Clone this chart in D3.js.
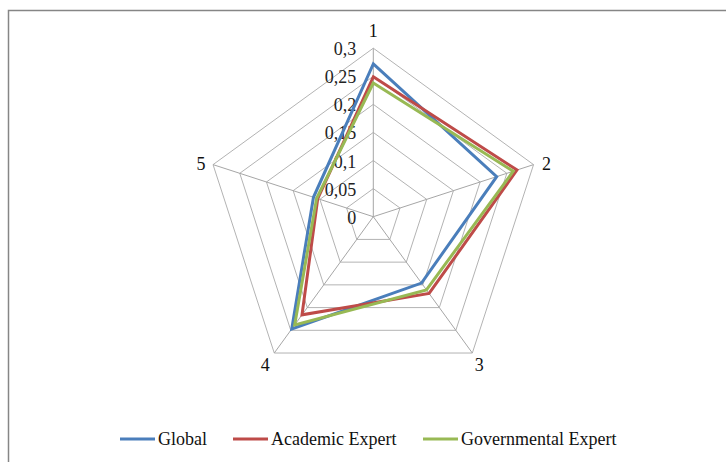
<!DOCTYPE html>
<html><head><meta charset="utf-8">
<script src="https://cdn.jsdelivr.net/npm/d3@7"></script>
<style>body{margin:0;background:#fff}svg{display:block}
text{font-family:"Liberation Serif","Times New Roman","DejaVu Serif",serif}</style>
</head><body>
<svg id="c" width="726" height="462"></svg>
<script>
const axes = ["1","2","3","4","5"];
const tickValues = [0,0.05,0.1,0.15,0.2,0.25,0.3];
const tickLabels = ["0","0,05","0,1","0,15","0,2","0,25","0,3"];
const seriesNames = ["Global","Academic Expert","Governmental Expert"];
const globalVals = [0.272,0.231,0.146,0.247,0.112];
const academicVals = [0.249,0.269,0.169,0.216,0.104];
const governmentalVals = [0.238,0.262,0.161,0.238,0.106];
const colors = ["#4a7ebb","#be4b48","#98b954"];

const svg = d3.select("#c");
const cx = 373.3, cy = 216.7, R = 168.5;
const r = d3.scaleLinear().domain([0,0.3]).range([0,R]);
const ang = i => -Math.PI/2 + i*2*Math.PI/axes.length;
const pt = (i,v) => [cx + r(v)*Math.cos(ang(i)), cy + r(v)*Math.sin(ang(i))];

// frame
svg.append("path").attr("d","M8.5,470 L8.5,10.5 L740,10.5")
  .attr("fill","none").attr("stroke","#868686").attr("stroke-width",1.5);

// rings
const line = d3.line();
tickValues.slice(1).forEach(t=>{
  svg.append("path").attr("d", line(axes.map((a,i)=>pt(i,t)))+"Z")
    .attr("fill","none").attr("stroke","#b3b3b3").attr("stroke-width",1);
});
// spokes
axes.forEach((a,i)=>{
  const p = pt(i,0.3);
  svg.append("line").attr("x1",cx).attr("y1",cy).attr("x2",p[0]).attr("y2",p[1])
    .attr("stroke","#a6a6a6").attr("stroke-width",1);
});
// tick labels
tickValues.forEach((t,k)=>{
  svg.append("text").attr("x",cx-17).attr("y",cy-r(t)+7)
    .attr("text-anchor","end")
    .attr("font-size",18).attr("fill","#222").text(tickLabels[k]);
});
// axis labels
const labOff = [[0,-11],[13,5],[7,18],[-9,18],[-12,5]];
axes.forEach((a,i)=>{
  const p = pt(i,0.3);
  svg.append("text").attr("x",p[0]+labOff[i][0]).attr("y",p[1]+labOff[i][1])
    .attr("text-anchor","middle")
    .attr("font-size",18).attr("fill","#111").text(a);
});
// series
const allVals = [globalVals, academicVals, governmentalVals];
allVals.forEach((vals,s)=>{
  svg.append("path").attr("d", line(vals.map((v,i)=>pt(i,v)))+"Z")
    .attr("fill","none").attr("stroke",colors[s]).attr("stroke-width",3)
    .attr("stroke-linejoin","miter");
});
// legend
const legX = [120,233,423];
seriesNames.forEach((n,s)=>{
  svg.append("line").attr("x1",legX[s]).attr("x2",legX[s]+35).attr("y1",439).attr("y2",439)
    .attr("stroke",colors[s]).attr("stroke-width",3);
  svg.append("text").attr("x",legX[s]+38).attr("y",445)
    .attr("font-size",18).attr("fill","#111").text(n);
});
</script>
</body></html>
